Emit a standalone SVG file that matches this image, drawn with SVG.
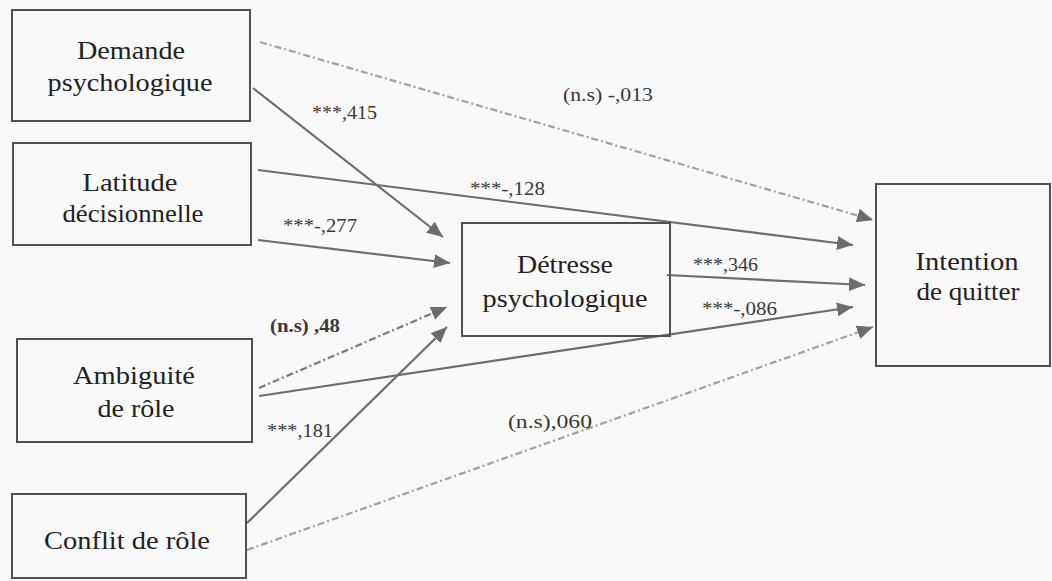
<svg xmlns="http://www.w3.org/2000/svg" width="1052" height="581" viewBox="0 0 1052 581">
<style>
.bg{fill:#f9f9f9}
.box{fill:none;stroke:#505050;stroke-width:2}
.nt{font-family:"Liberation Serif","Times New Roman",serif;font-size:26px;fill:#222;text-anchor:middle}
.lb{font-family:"Liberation Serif","Times New Roman",serif;font-size:19px;fill:#383838}
.c{fill:none;stroke:#6c6c6c;stroke-width:2.2;marker-end:url(#ah)}
.d{fill:none;stroke:#7a7a7a;stroke-width:2.2;stroke-dasharray:7,3,2,3;marker-end:url(#ah)}
.dl{stroke:#a0a0a0}
</style>
<defs>
<marker id="ah" markerUnits="userSpaceOnUse" markerWidth="17" markerHeight="14" refX="16" refY="7" orient="auto">
<path d="M0,0 L16,7 L0,14 z" fill="#6c6c6c"/>
</marker>
</defs>
<rect class="bg" x="0" y="0" width="1052" height="581"/>
<g id="connectors">
<line class="d dl" x1="260" y1="42" x2="873" y2="220"/>
<line class="c" x1="253" y1="88" x2="443" y2="237"/>
<line class="c" x1="258" y1="170" x2="853" y2="245"/>
<line class="c" x1="258" y1="240" x2="450" y2="263"/>
<line class="c" x1="667" y1="275" x2="865" y2="285"/>
<line class="c" x1="259" y1="396" x2="853" y2="307"/>
<line class="d" x1="259" y1="388" x2="447" y2="307"/>
<line class="c" x1="247" y1="523" x2="447" y2="327"/>
<line class="d dl" x1="247" y1="550" x2="873" y2="327"/>
</g>
<g id="labels">
<text class="lb" x="312" y="119" textLength="65" lengthAdjust="spacingAndGlyphs">***,415</text>
<text class="lb" x="563" y="101" textLength="90" lengthAdjust="spacingAndGlyphs">(n.s) -,013</text>
<text class="lb" x="470" y="195" textLength="75" lengthAdjust="spacingAndGlyphs">***-,128</text>
<text class="lb" x="283" y="232" textLength="74" lengthAdjust="spacingAndGlyphs">***-,277</text>
<text class="lb" x="693" y="271" textLength="65" lengthAdjust="spacingAndGlyphs">***,346</text>
<text class="lb" x="702" y="315" textLength="75" lengthAdjust="spacingAndGlyphs">***-,086</text>
<text class="lb" x="270" y="332" textLength="70" lengthAdjust="spacingAndGlyphs" font-weight="bold" fill="#666">(n.s) ,48</text>
<text class="lb" x="267" y="437" textLength="66" lengthAdjust="spacingAndGlyphs">***,181</text>
<text class="lb" x="508" y="428" textLength="84" lengthAdjust="spacingAndGlyphs">(n.s),060</text>
</g>
<g id="n-demande">
<rect class="box" x="12" y="10" width="238" height="111"/>
<text class="nt" x="131" y="59" textLength="108" lengthAdjust="spacingAndGlyphs">Demande</text>
<text class="nt" x="130" y="91" textLength="165" lengthAdjust="spacingAndGlyphs">psychologique</text>
</g>
<g id="n-latitude">
<rect class="box" x="13" y="143" width="238" height="102"/>
<text class="nt" x="130" y="191" textLength="95" lengthAdjust="spacingAndGlyphs">Latitude</text>
<text class="nt" x="133" y="222" textLength="141" lengthAdjust="spacingAndGlyphs">décisionnelle</text>
</g>
<g id="n-detresse">
<rect class="box" x="462" y="223" width="208" height="113"/>
<text class="nt" x="565" y="273" textLength="96" lengthAdjust="spacingAndGlyphs">Détresse</text>
<text class="nt" x="565" y="307" textLength="165" lengthAdjust="spacingAndGlyphs">psychologique</text>
</g>
<g id="n-intention">
<rect class="box" x="876" y="184" width="174" height="182"/>
<text class="nt" x="967" y="270" textLength="103" lengthAdjust="spacingAndGlyphs">Intention</text>
<text class="nt" x="968" y="300" textLength="103" lengthAdjust="spacingAndGlyphs">de quitter</text>
</g>
<g id="n-ambiguite">
<rect class="box" x="17" y="339" width="235" height="103"/>
<text class="nt" x="134" y="384" textLength="122" lengthAdjust="spacingAndGlyphs">Ambiguité</text>
<text class="nt" x="136" y="417" textLength="77" lengthAdjust="spacingAndGlyphs">de rôle</text>
</g>
<g id="n-conflit">
<rect class="box" x="12" y="494" width="234" height="84"/>
<text class="nt" x="127" y="549" textLength="166" lengthAdjust="spacingAndGlyphs">Conflit de rôle</text>
</g>
</svg>
